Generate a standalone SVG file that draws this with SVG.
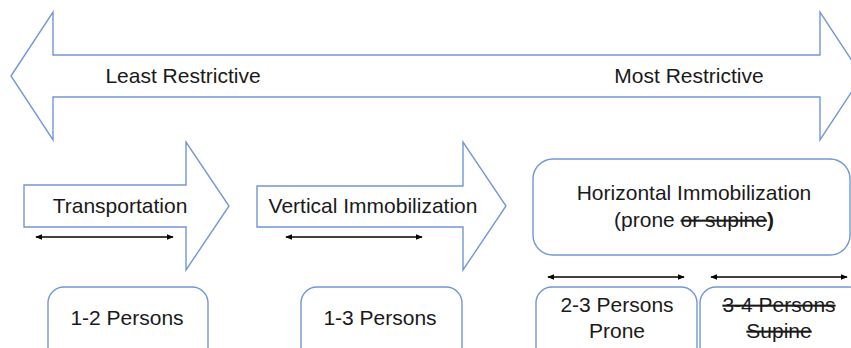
<svg xmlns="http://www.w3.org/2000/svg" width="851" height="348" viewBox="0 0 851 348">
<style>
.shape{fill:#fff;stroke:#7396D6;stroke-width:1.4;stroke-linejoin:miter}
.t{font-family:"Liberation Sans",Arial,sans-serif;font-size:21px;fill:#1a1a1a;text-anchor:middle}
.strike{text-decoration:line-through}
.conn{stroke:#000;stroke-width:1.6;fill:none;marker-start:url(#ah);marker-end:url(#ah)}
</style>
<defs>
<marker id="ah" viewBox="0 0 10 10" refX="9" refY="5" markerWidth="4.5" markerHeight="4.5" orient="auto-start-reverse" markerUnits="strokeWidth">
<path d="M0,1 L10,5 L0,9 Z" fill="#000"/>
</marker>
</defs>
<rect width="851" height="348" fill="#fff"/>
<g id="scale-arrow">
<polygon class="shape" points="11,76 53,12 53,55 820,55 820,12 862,76 820,140 820,97 53,97 53,140"/>
<text class="t" x="183" y="83">Least Restrictive</text>
<text class="t" x="689" y="83">Most Restrictive</text>
</g>
<g id="transportation">
<polygon class="shape" points="24,185 186,185 186,142 229,206 186,270 186,227 24,227"/>
<text class="t" x="120" y="213">Transportation</text>
</g>
<g id="vertical">
<polygon class="shape" points="257,186 463,186 463,142 506,206 463,270 463,227 257,227"/>
<text class="t" x="373" y="213">Vertical Immobilization</text>
</g>
<g id="horizontal">
<rect class="shape" x="533" y="159" width="317" height="96" rx="20" ry="20"/>
<text class="t" x="694" y="200">Horizontal Immobilization</text>
<text class="t" x="694" y="227">(prone <tspan class="strike">or supine</tspan><tspan font-weight="bold">)</tspan></text>
</g>
<g id="persons-1-2">
<rect class="shape" x="48" y="287" width="160" height="80" rx="16" ry="16"/>
<text class="t" x="127" y="325">1-2 Persons</text>
</g>
<g id="persons-1-3">
<rect class="shape" x="301" y="287" width="161" height="80" rx="16" ry="16"/>
<text class="t" x="380" y="325">1-3 Persons</text>
</g>
<g id="persons-2-3">
<rect class="shape" x="536" y="287" width="161" height="80" rx="16" ry="16"/>
<text class="t" x="617" y="312">2-3 Persons</text>
<text class="t" x="617" y="338">Prone</text>
</g>
<g id="persons-3-4">
<rect class="shape" x="700" y="287" width="165" height="80" rx="16" ry="16"/>
<text class="t strike" x="779" y="312">3-4 Persons</text>
<text class="t strike" x="779" y="338">Supine</text>
</g>
<g id="connectors">
<line class="conn" x1="36" y1="237" x2="173" y2="237"/>
<line class="conn" x1="286" y1="237" x2="422" y2="237"/>
<line class="conn" x1="548" y1="277" x2="684" y2="277"/>
<line class="conn" x1="711" y1="277" x2="847" y2="277"/>
</g>
</svg>
